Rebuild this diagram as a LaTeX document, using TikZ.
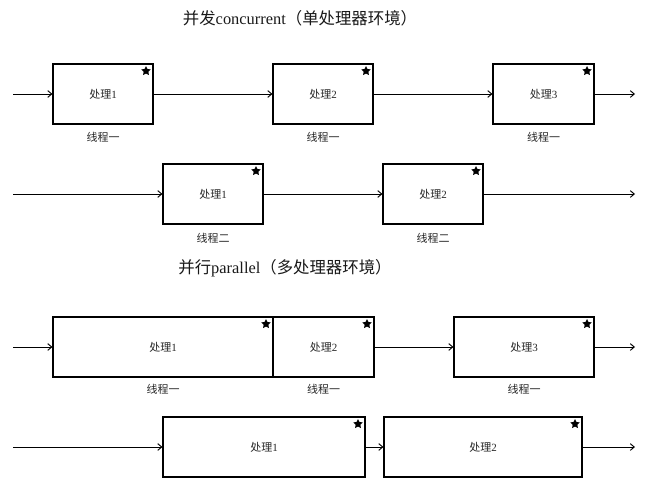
\documentclass[tikz,border=0pt]{standalone}
\usepackage{fontspec}
\setmainfont{Liberation Serif}
\newfontfamily\cjk{Noto Sans CJK SC}
\usetikzlibrary{shapes.geometric,arrows.meta}
\begin{document}
\begin{tikzpicture}[x=0.75pt,y=-0.75pt,
  proc/.style={draw, line width=0.8pt, minimum height=45pt, inner sep=0pt,
    font=\fontsize{8.25}{10}\selectfont, text=black!85},
  lbl/.style={font=\fontsize{8.25}{10}\selectfont, text=black!85, inner sep=0pt},
  ttl/.style={font=\fontsize{12.3}{14}\selectfont, inner sep=0pt, text=black!90},
  flow/.style={line width=0.7pt, -{Straight Barb[length=3pt,width=5pt]}},
  starmark/.style={star, star points=5, star point ratio=2, fill=black,
    draw=none, minimum size=7.5pt, inner sep=0pt}]
\path[use as bounding box] (0,0) rectangle (652,479);

% titles
\node[ttl] (t1) at (300,18) {{\cjk 并发}concurrent{\cjk （单处理器环境）}};
\node[ttl] (t2) at (285,268) {{\cjk 并行}parallel{\cjk （多处理器环境）}};

% row 1
\node[proc, minimum width=75pt] (a1) at (103,94) {{\cjk 处理}1};
\node[proc, minimum width=75pt] (a2) at (323,94) {{\cjk 处理}2};
\node[proc, minimum width=75.75pt] (a3) at (543.5,94) {{\cjk 处理}3};
\coordinate (a0) at (13,94);
\coordinate (a4) at (635,94);
\draw[flow] (a0) -- (a1.west);
\draw[flow] (a1.east) -- (a2.west);
\draw[flow] (a2.east) -- (a3.west);
\draw[flow] (a3.east) -- (a4);
\node[lbl] (la1) at (103,137) {\cjk 线程一};
\node[lbl] (la2) at (323,137) {\cjk 线程一};
\node[lbl] (la3) at (543.5,137) {\cjk 线程一};
\node[starmark] (sa1) at (146,71) {};
\node[starmark] (sa2) at (366,71) {};
\node[starmark] (sa3) at (587,71) {};

% row 2
\node[proc, minimum width=75pt] (b1) at (213,194) {{\cjk 处理}1};
\node[proc, minimum width=75pt] (b2) at (433,194) {{\cjk 处理}2};
\coordinate (b0) at (13,194);
\coordinate (b3) at (635,194);
\draw[flow] (b0) -- (b1.west);
\draw[flow] (b1.east) -- (b2.west);
\draw[flow] (b2.east) -- (b3);
\node[lbl] (lb1) at (213,238) {\cjk 线程二};
\node[lbl] (lb2) at (433,238) {\cjk 线程二};
\node[starmark] (sb1) at (256,171) {};
\node[starmark] (sb2) at (476,171) {};

% row 3
\node[proc, minimum width=165pt] (c1) at (163,347) {{\cjk 处理}1};
\node[proc, minimum width=75.75pt] (c2) at (323.5,347) {{\cjk 处理}2};
\node[proc, minimum width=105pt] (c3) at (524,347) {{\cjk 处理}3};
\coordinate (c0) at (13,347);
\coordinate (c4) at (635,347);
\draw[flow] (c0) -- (c1.west);
\draw[flow] (c2.east) -- (c3.west);
\draw[flow] (c3.east) -- (c4);
\node[lbl] (lc1) at (163,389) {\cjk 线程一};
\node[lbl] (lc2) at (323.5,389) {\cjk 线程一};
\node[lbl] (lc3) at (524,389) {\cjk 线程一};
\node[starmark] (sc1) at (266,324) {};
\node[starmark] (sc2) at (367,324) {};
\node[starmark] (sc3) at (587,324) {};

% row 4
\node[proc, minimum width=151.5pt] (d1) at (264,447) {{\cjk 处理}1};
\node[proc, minimum width=148.5pt] (d2) at (483,447) {{\cjk 处理}2};
\coordinate (d0) at (13,447);
\coordinate (d3) at (635,447);
\draw[flow] (d0) -- (d1.west);
\draw[flow] (d1.east) -- (d2.west);
\draw[flow] (d2.east) -- (d3);
\node[starmark] (sd1) at (358,424) {};
\node[starmark] (sd2) at (575,424) {};
\end{tikzpicture}
\end{document}
